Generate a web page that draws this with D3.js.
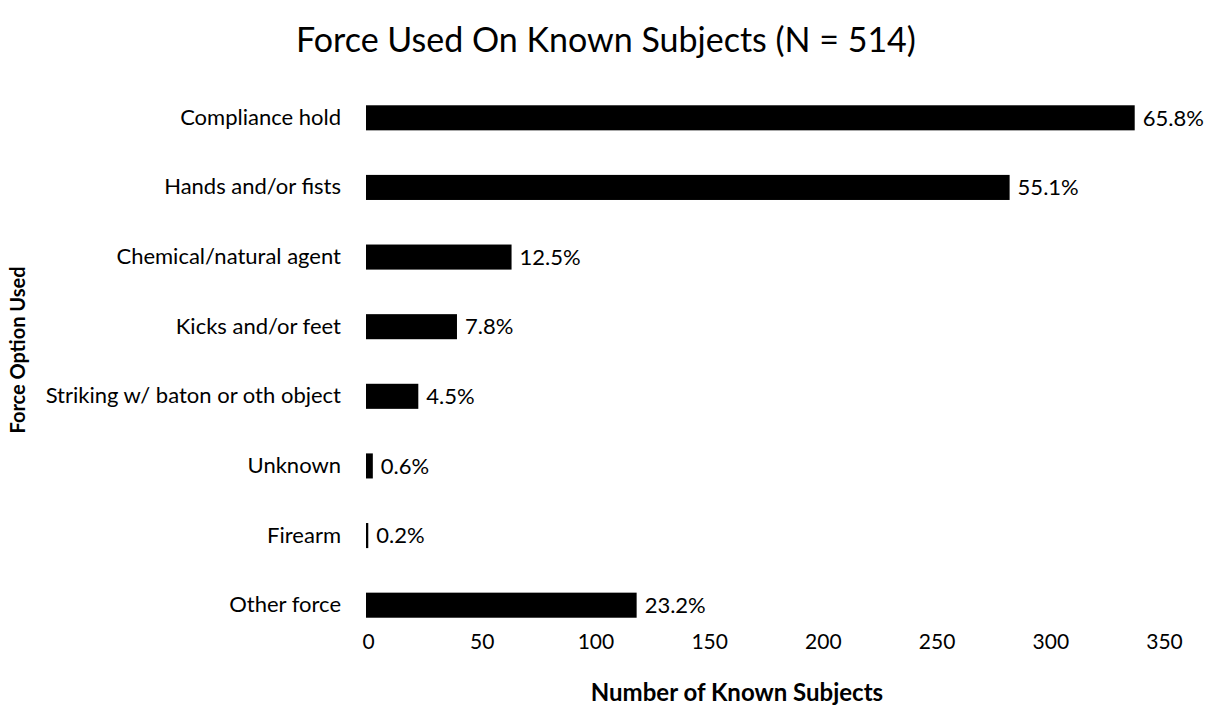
<!DOCTYPE html>
<html>
<head>
<meta charset="utf-8">
<script src="https://cdn.jsdelivr.net/npm/d3@7"></script>
<style>
  body { margin: 0; background: #fff; }
  svg { font-family: Lato, "Open Sans", sans-serif; }
  .domain { display: none; }
  .tick line { display: none; }
</style>
</head>
<body>
<div id="chart"></div>
<script>
// ── Data ───────────────────────────────────────────────────────────────────
const categories = [
  "Compliance hold", "Hands and/or fists", "Chemical/natural agent",
  "Kicks and/or feet", "Striking w/ baton or oth object", "Unknown",
  "Firearm", "Other force"
];
const counts   = [338, 283, 64, 40, 23, 3, 1, 119];
const percents = ["65.8%", "55.1%", "12.5%", "7.8%", "4.5%", "0.6%", "0.2%", "23.2%"];
const xTicks   = [0, 50, 100, 150, 200, 250, 300, 350];

// ── Layout ─────────────────────────────────────────────────────────────────
const W = 1210, H = 717;
const MARGIN = { top: 83, right: 48, bottom: 77, left: 366 };
const IW = W - MARGIN.left - MARGIN.right;
const IH = H - MARGIN.top - MARGIN.bottom;

const svg = d3.select("#chart").append("svg").attr("width", W).attr("height", H);
const g = svg.append("g").attr("transform", `translate(${MARGIN.left},${MARGIN.top})`);

const x = d3.scaleLinear().domain([0, 350]).range([0, IW]);
const y = d3.scaleBand().domain(categories).range([0, IH]).paddingInner(0.64).paddingOuter(0.32);

// Axes
g.append("g").attr("transform", `translate(2,${IH - 6})`)
  .call(d3.axisBottom(x).tickValues(xTicks).tickSize(0).tickPadding(0))
  .selectAll("text").attr("font-size", 21).attr("fill", "#000").attr("font-family", "Lato");

g.append("g")
  .call(d3.axisLeft(y).tickSize(0).tickPadding(25))
  .selectAll("text").attr("font-size", 22).attr("fill", "#000").attr("font-family", "Lato");

// Bars
g.selectAll("rect.bar")
  .data(categories)
  .enter()
  .append("rect")
  .attr("class", "bar")
  .attr("x", x(0))
  .attr("y", d => y(d))
  .attr("width", (d, i) => Math.max(x(counts[i]) - x(0), 1.5))
  .attr("height", y.bandwidth())
  .attr("fill", "#000");

// Value labels
g.selectAll("text.val")
  .data(categories)
  .enter()
  .append("text")
  .attr("class", "val")
  .attr("x", (d, i) => x(counts[i]) + 8)
  .attr("y", d => y(d) + y.bandwidth() / 2)
  .attr("dy", "0.35em")
  .attr("font-size", 22)
  .text((d, i) => percents[i]);

// Title
svg.append("text").attr("x", 606).attr("y", 52)
  .attr("text-anchor", "middle").attr("font-size", 34)
  .text("Force Used On Known Subjects (N = 514)");

// Axis titles
svg.append("text").attr("x", 737).attr("y", 701)
  .attr("text-anchor", "middle").attr("font-size", 24).attr("font-weight", "bold")
  .text("Number of Known Subjects");

svg.append("text").attr("transform", "rotate(-90)")
  .attr("x", -350).attr("y", 25)
  .attr("text-anchor", "middle").attr("font-size", 20).attr("font-weight", "bold")
  .text("Force Option Used");
</script>
</body>
</html>
